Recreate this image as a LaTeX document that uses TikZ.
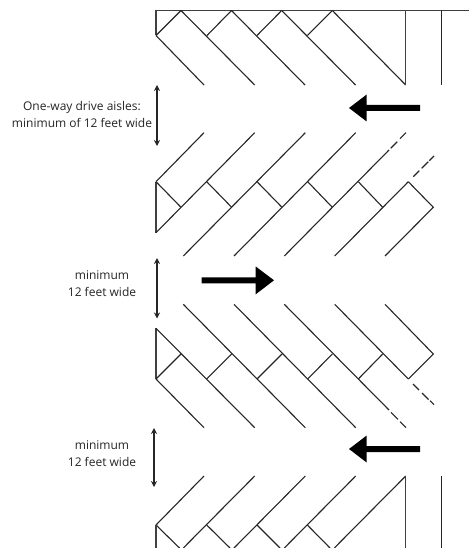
\documentclass[tikz,border=0pt]{standalone}
\usepackage{fontspec}
\setmainfont{Open Sans}
\usetikzlibrary{arrows.meta}
\tikzset{
  stall/.style={line width=1.1pt,draw=black!85,line cap=butt},
  wall/.style={line width=1.3pt,draw=black!75},
  dashpart/.style={line width=1.1pt,draw=black!85},
  dim/.style={line width=1.1pt,draw=black!85,{Stealth[length=6pt,width=6pt]}-{Stealth[length=6pt,width=6pt]}},
  flow/.style={fill=black,draw=none},
  lbl/.style={font=\fontsize{12}{17}\selectfont,text=black!85,align=center,inner sep=0pt,anchor=center}
}
\newcommand{\flowleft}[1]{\fill[flow] (420,#1-3) -- (366.7,#1-3) -- (366.7,#1-13.5) -- (349,#1) -- (366.7,#1+13.5) -- (366.7,#1+3) -- (420,#1+3) -- cycle;}
\begin{document}
\begin{tikzpicture}[x=1pt,y=-1pt]
\useasboundingbox (0,0) rectangle (469,548);
\fill[white] (0,0) rectangle (469,548);
% top row
\draw[wall] (469,10.5) -- (156,10.5) -- (156,35.5);
\draw[stall] (156,35.5) -- (181,10.5);
\draw[stall] (207,35.5) -- (231.5,10.5);
\draw[stall] (257,35.5) -- (281.7,10.5);
\draw[stall] (307.3,35.5) -- (332.3,10.5);
\draw[stall] (156,35.5) -- (204,85);
\draw[stall] (181,10.5) -- (254.7,85);
\draw[stall] (231.5,10.5) -- (305,85);
\draw[stall] (281.7,10.5) -- (355.5,85);
\draw[stall] (332.3,10.5) -- (405.7,85);
\draw[wall] (405.7,10.5) -- (405.7,85);
\draw[stall] (441.5,10.5) -- (441.5,85);
% second row
\draw[wall] (156,181.7) -- (156,232.7);
\draw[stall] (156,181.7) -- (204,132.7);
\draw[stall] (156,232.7) -- (254.7,132.7);
\draw[stall] (183.3,256) -- (305.3,132.7);
\draw[stall] (234,256) -- (355.7,132.7);
\draw[stall] (284.3,256) -- (389,150);
\draw[dashpart] (390.7,148.3) -- (397.3,141.7) (400,138.7) -- (406,132.7);
\draw[stall] (334.7,256) -- (408.3,181.7);
\draw[dashpart] (413.3,176.7) -- (419.3,170.7) (421.7,168.3) -- (428.3,161.7) (429.3,160.7) -- (434,156);
\draw[stall] (385,256) -- (433.3,207.3) -- (408.3,181.7);
\draw[stall] (156,181.7) -- (181,207.3);
\draw[stall] (206.7,181.7) -- (231.7,207.3);
\draw[stall] (257,181.7) -- (282,207.3);
\draw[stall] (307.7,181.7) -- (332.3,207.3);
\draw[stall] (358.3,181.7) -- (382.7,207.3);
% third row
\draw[wall] (156,328.3) -- (156,379);
\draw[stall] (156,379) -- (204,427.7);
\draw[stall] (156,328.3) -- (254.7,427.7);
\draw[stall] (183.3,304.3) -- (305.3,427.7);
\draw[stall] (234,304.3) -- (355.7,427.7);
\draw[stall] (284.3,304.3) -- (389,410);
\draw[dashpart] (391,412.3) -- (398,419.3) (400,421.7) -- (406,427.7);
\draw[stall] (334.7,304.3) -- (408.3,379);
\draw[dashpart] (413,384) -- (419,390) (422,393) -- (428.5,399.5) (430,400.7) -- (434,404.7);
\draw[stall] (385,304.3) -- (433.3,354) -- (408.3,379);
\draw[stall] (156,379) -- (181,354);
\draw[stall] (206.7,379) -- (231.7,354);
\draw[stall] (257,379) -- (282,354);
\draw[stall] (307.7,379) -- (332.3,354);
\draw[stall] (358.3,379) -- (382.7,354);
% bottom row
\draw[stall] (156,525) -- (204,476);
\draw[stall] (183.3,548) -- (254.7,476);
\draw[stall] (234,548) -- (305.3,476);
\draw[stall] (284.3,548) -- (355.7,476);
\draw[stall] (334.3,548) -- (405.7,476);
\draw[stall] (156,525) -- (179.5,548);
\draw[stall] (206.7,525) -- (230,548);
\draw[stall] (257,525) -- (280,548);
\draw[stall] (307.3,525) -- (330,548);
\draw[wall] (156,525) -- (156,548);
\draw[wall] (405.7,476) -- (405.7,548);
\draw[stall] (441.5,476) -- (441.5,548);
% flow arrows
\flowleft{108}
\flowleft{449}
\fill[flow] (201.7,277.3) -- (255.7,277.3) -- (255.7,266.5) -- (274,280.3) -- (255.7,294.3) -- (255.7,283.3) -- (201.7,283.3) -- cycle;
% dimensions
\coordinate (d1a) at (157,85);  \coordinate (d1b) at (157,146);
\coordinate (d2a) at (157,258); \coordinate (d2b) at (157,318.5);
\coordinate (d3a) at (154,428); \coordinate (d3b) at (154,487);
\draw[dim] (d1a) -- (d1b);
\draw[dim] (d2a) -- (d2b);
\draw[dim] (d3a) -- (d3b);
% labels
\node[lbl] (t1) at (82,115) {One-way drive aisles:\\minimum of 12 feet wide};
\node[lbl] (t2) at (102,284) {minimum\\12 feet wide};
\node[lbl] (t3) at (102,454) {minimum\\12 feet wide};
\end{tikzpicture}
\end{document}
